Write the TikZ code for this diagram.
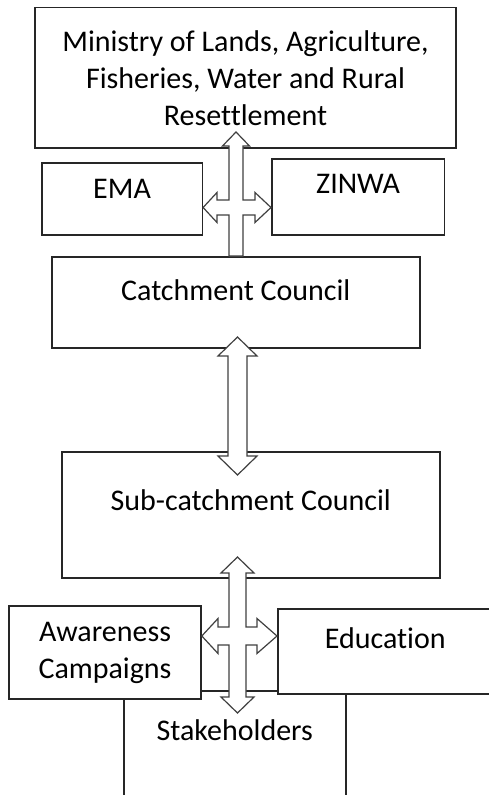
\documentclass[tikz,border=0pt]{standalone}
\usepackage{fontspec}
\setmainfont{Carlito}[Ligatures=NoCommon]
\usetikzlibrary{calc}

\newcommand{\boxfont}{\fontsize{30}{37}\selectfont}

\begin{document}
\begin{tikzpicture}[x=1pt,y=-1pt,
		box/.style={draw=black!85,line width=1.6pt,fill=white,inner sep=0pt,font=\boxfont,align=center},
		blockarrow/.style={draw=black!75,line width=1.2pt,fill=white,line join=miter}]
		
		\clip (0,0) rectangle (489,795);
		
		%----------------------------------------
		% Ministry
		%----------------------------------------
		\node[box,minimum width=421pt,minimum height=140.5pt] (ministry) at (245.5,77.75)
		{Ministry of Lands, Agriculture,\\ Fisheries, Water and Rural\\ Resettlement};
		
		%----------------------------------------
		% Agencies
		%----------------------------------------
		\node[box,anchor=north west,minimum width=160.5pt,text height=36pt,text depth=36pt] (ema) at (41,162) {EMA};
		\node[box,anchor=north west,minimum width=172.5pt,text height=35pt,text depth=41pt] (zinwa) at (271,158) {ZINWA};
		
		%----------------------------------------
		% Councils
		%----------------------------------------
		\node[box,anchor=north west,minimum width=368pt,text height=44pt,text depth=47pt] (catch) at (51,256) {Catchment Council};
		\node[box,anchor=north west,minimum width=378pt,text height=59pt,text depth=67pt] (subcatch) at (61,451) {Sub-catchment Council};
		
		%----------------------------------------
		% Stakeholders and programmes
		%----------------------------------------
		\node[box,anchor=north west,minimum width=222pt,text height=50pt,text depth=80pt] (stake) at (123,690) {Stakeholders};
		\node[box,minimum width=192pt,minimum height=93pt] (awareness) at (105,652.5) {Awareness\\ Campaigns};
		\node[box,anchor=north west,minimum width=215pt,text height=40pt,text depth=45pt] (education) at (277,608) {Education};
		
		%----------------------------------------
		% Arrow hubs
		%----------------------------------------
		\coordinate (hubA) at (236,207.5);
		\coordinate (hubB) at (237.5,406);
		\coordinate (hubC) at (237.5,636);
		
		% ministry / agencies / catchment
		\begin{scope}[shift={(hubA)}]
			\draw[blockarrow] (0,-75.5) -- (13.5,-61.5) -- (7,-61.5) -- (7,-7.5) -- (19,-7.5) -- (19,-15)
			-- (zinwa.west |- 0,0) -- (19,15) -- (19,7.5) -- (7,7.5) -- (7,0 |- catch.north)
			-- (-7,0 |- catch.north) -- (-7,7.5) -- (-19,7.5) -- (-19,15) -- (ema.east |- 0,0)
			-- (-19,-15) -- (-19,-7.5) -- (-7,-7.5) -- (-7,-61.5) -- (-13.5,-61.5) -- cycle;
		\end{scope}
		
		% catchment / sub-catchment
		\begin{scope}[shift={(hubB)}]
			\draw[blockarrow] (0,-69) -- (19.5,-50) -- (9.5,-50) -- (9.5,50) -- (19.5,50) -- (0,69)
			-- (-19.5,50) -- (-9.5,50) -- (-9.5,-50) -- (-19.5,-50) -- cycle;
		\end{scope}
		
		% sub-catchment / awareness / education / stakeholders
		\begin{scope}[shift={(hubC)}]
			\draw[blockarrow] (0,-79) -- (16.5,-63) -- (8.5,-63) -- (8.5,-9) -- (19.5,-9) -- (19.5,-17.5)
			-- (education.west |- 0,0) -- (19.5,17.5) -- (19.5,9) -- (8.5,9) -- (8.5,61) -- (16.5,61)
			-- (0,77) -- (-16.5,61) -- (-8.5,61) -- (-8.5,9) -- (-19.5,9) -- (-19.5,17.5)
			-- (awareness.east |- 0,0) -- (-19.5,-17.5) -- (-19.5,-9) -- (-8.5,-9) -- (-8.5,-63)
			-- (-16.5,-63) -- cycle;
		\end{scope}
		
	\end{tikzpicture}
\end{document}
